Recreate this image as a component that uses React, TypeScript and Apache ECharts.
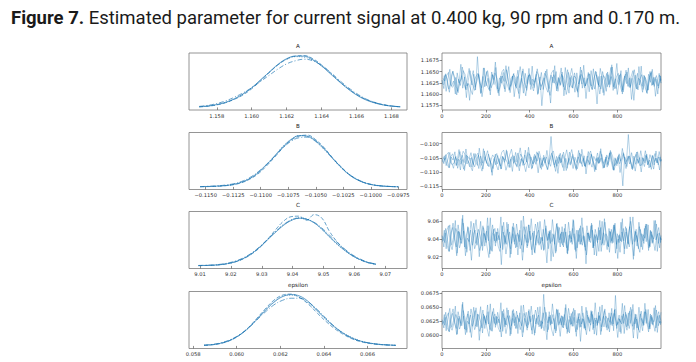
import React, { useEffect, useRef } from "react";
import * as echarts from "echarts";

// ---------- DATA ----------
const PARAMS = ["A", "B", "C", "epsilon"];

// KDE grids (x) and densities (relative, 4 chains each)
const A_KDE_X = [1.157, 1.1575, 1.158, 1.1585, 1.159, 1.1595, 1.16, 1.1605, 1.161, 1.1615, 1.162, 1.1625, 1.163, 1.1635, 1.164, 1.1645, 1.165, 1.1655, 1.166, 1.1665, 1.167, 1.1675, 1.168, 1.1685];
const A_KDE_1 = [1.4, 2.8, 5.5, 9.8, 16.5, 26, 38, 53, 68, 83, 94, 99, 99, 92, 80, 65, 50, 36, 24, 15, 9, 5, 2.5, 1.2];
const A_KDE_2 = [1.0, 2.2, 4.8, 9.0, 15.5, 24, 36, 51, 67, 82, 93, 99, 100, 94, 82, 67, 51, 37, 25, 16, 10, 5.5, 2.8, 1.3];
const A_KDE_3 = [2.0, 4.0, 7.5, 12.5, 19.5, 28, 38, 50, 62, 74, 84, 90, 93, 90, 81, 68, 53, 39, 27, 17, 10, 5.5, 2.7, 1.2];
const A_KDE_4 = [1.2, 2.6, 5.2, 9.5, 16, 25.5, 38, 52.5, 68, 82, 93, 98, 97, 91, 80, 66, 51, 37, 25, 16, 9.5, 5.2, 2.6, 1.3];

const B_KDE_X = [-0.1155, -0.11475, -0.114, -0.11325, -0.1125, -0.11175, -0.111, -0.11025, -0.1095, -0.10875, -0.108, -0.10725, -0.1065, -0.10575, -0.105, -0.10425, -0.1035, -0.10275, -0.102, -0.10125, -0.1005, -0.09975, -0.099, -0.09825, -0.0975];
const B_KDE_1 = [0.5, 0.9, 1.5, 2.6, 4.8, 9, 16, 27, 42, 59, 77, 91, 99, 98, 89, 74, 56, 39, 24, 14, 7.5, 3.8, 1.8, 0.8, 0.3];
const B_KDE_2 = [0.3, 0.6, 1.2, 2.2, 4.2, 8, 15, 25, 40, 57, 75, 90, 98, 100, 91, 76, 57, 40, 25, 14.5, 7.5, 3.5, 1.6, 0.7, 0.2];
const B_KDE_3 = [0.6, 1.2, 2.0, 3.5, 6, 10.5, 18, 29, 43, 59, 75, 88, 95, 96, 88, 74, 56, 39, 25, 15, 8, 4, 2, 0.9, 0.4];
const B_KDE_4 = [0.4, 0.8, 1.4, 2.4, 4.5, 8.8, 16.5, 28, 43, 60, 78, 92, 99, 97, 87, 72, 55, 38, 24, 14, 7.6, 3.8, 1.8, 0.8, 0.3];

const C_KDE_X = [9.0095, 9.012, 9.0145, 9.017, 9.0195, 9.022, 9.0245, 9.027, 9.0295, 9.032, 9.0345, 9.037, 9.0395, 9.042, 9.0445, 9.047, 9.0495, 9.052, 9.0545, 9.057, 9.0595, 9.062, 9.0645, 9.067];
const C_KDE_1 = [0.7, 1.0, 1.5, 2.8, 5.2, 9.3, 15.8, 25, 37, 51, 65, 78, 87.5, 92, 90, 83, 71, 56, 42, 29.5, 19.3, 12, 6.5, 3.5];
const C_KDE_2 = [0.5, 0.8, 1.3, 2.5, 4.8, 8.8, 15, 24, 36, 52, 70, 86, 95, 96, 88, 99, 92, 66, 46, 31, 19.5, 11.5, 6, 3];
const C_KDE_3 = [0.9, 1.3, 2.0, 3.5, 6.2, 10.5, 17, 26, 38, 52, 66, 79, 88, 92, 90, 84, 73, 59, 45, 32, 21, 13, 7, 3.8];
const C_KDE_4 = [0.6, 0.9, 1.4, 2.6, 5, 9, 15.5, 25, 37.5, 52, 67, 80, 89, 93, 91, 83, 70, 55, 41, 29, 19, 11.5, 6.2, 3.2];

const E_KDE_X = [0.0585, 0.0589, 0.0593, 0.0597, 0.0601, 0.0605, 0.0609, 0.0613, 0.0617, 0.0621, 0.0625, 0.0629, 0.0633, 0.0637, 0.0641, 0.0645, 0.0649, 0.0653, 0.0657, 0.0661, 0.0665, 0.0669, 0.0673];
const E_KDE_1 = [1.3, 2.6, 5.6, 11, 20, 33, 50, 68, 84, 95, 99, 96, 85, 68, 51, 36, 24, 15, 9, 5.5, 3.2, 2, 1.2];
const E_KDE_2 = [1.0, 2.2, 5.0, 10.5, 20, 34, 52, 71, 88, 98, 100, 93, 80, 63, 47, 33, 22, 13.5, 8, 4.8, 2.8, 1.7, 1.0];
const E_KDE_3 = [1.5, 3.0, 6.2, 12, 21, 33, 49, 65, 79, 88, 92, 92, 84, 70, 53, 37, 24, 15, 9, 5.3, 3, 1.8, 1.0];
const E_KDE_4 = [1.2, 2.5, 5.4, 11, 20.5, 34, 51, 69, 85, 96, 98, 93, 82, 67, 52, 37, 25, 16, 9.5, 5.6, 3.3, 2, 1.2];

// Trace samples (4 chains per parameter, thinned)
const A_TRACE_1 = [1.1631, 1.1612, 1.1645, 1.1622, 1.1604, 1.1638, 1.1651, 1.1627, 1.1598, 1.1633, 1.1619, 1.166, 1.1641, 1.1609, 1.1624, 1.1586, 1.1637, 1.1652, 1.1615, 1.1629, 1.1643, 1.1601, 1.1626, 1.1658, 1.1618, 1.1635, 1.1607, 1.1649, 1.1632, 1.1671, 1.162, 1.1596, 1.164, 1.1625, 1.1611, 1.1654, 1.1634, 1.1603, 1.1628, 1.1646, 1.1617, 1.1639, 1.159, 1.1623, 1.1656, 1.163, 1.1608, 1.1642, 1.1621, 1.1662, 1.1614, 1.1636, 1.1599, 1.1627, 1.1648, 1.161, 1.1633, 1.1655, 1.1619, 1.158, 1.1638, 1.1624, 1.165, 1.1606, 1.1631, 1.1644, 1.1616, 1.1659, 1.1626, 1.1602, 1.1637, 1.1613, 1.1647, 1.1629, 1.1593, 1.1641, 1.1622, 1.1664, 1.1618, 1.1635, 1.1605, 1.1652, 1.1628, 1.1611, 1.1643, 1.162, 1.1657, 1.1634, 1.1597, 1.1625, 1.1649, 1.1615, 1.1639, 1.1608, 1.1632, 1.1668, 1.1621, 1.1645, 1.16, 1.163, 1.1653, 1.1617, 1.1636, 1.1588, 1.1627, 1.1642, 1.1612, 1.1661, 1.1623, 1.1604, 1.164, 1.1631, 1.1609, 1.165, 1.1619, 1.1637, 1.1595, 1.1628, 1.1646, 1.1624];
const A_TRACE_2 = [1.1622, 1.1641, 1.1606, 1.1634, 1.1655, 1.1618, 1.1629, 1.16, 1.1647, 1.1625, 1.1666, 1.1613, 1.1638, 1.1592, 1.163, 1.1652, 1.162, 1.1644, 1.1609, 1.1683, 1.1627, 1.1603, 1.1639, 1.1616, 1.165, 1.1631, 1.1598, 1.1643, 1.1621, 1.1659, 1.1611, 1.1636, 1.1624, 1.1648, 1.1605, 1.1632, 1.1661, 1.1617, 1.164, 1.1594, 1.1628, 1.1653, 1.1614, 1.1635, 1.1602, 1.1646, 1.1623, 1.1657, 1.161, 1.1633, 1.1626, 1.1644, 1.1601, 1.1638, 1.1574, 1.162, 1.1651, 1.163, 1.1612, 1.1642, 1.1625, 1.1663, 1.1607, 1.1637, 1.1619, 1.1649, 1.1596, 1.1632, 1.1654, 1.1615, 1.1641, 1.1628, 1.1604, 1.1647, 1.1622, 1.166, 1.1613, 1.1636, 1.159, 1.1629, 1.1645, 1.1618, 1.1656, 1.1624, 1.1578, 1.1639, 1.1611, 1.165, 1.1631, 1.1606, 1.1643, 1.1621, 1.1665, 1.1616, 1.1634, 1.1599, 1.1627, 1.1652, 1.1609, 1.164, 1.1623, 1.1658, 1.1614, 1.1635, 1.1586, 1.163, 1.1646, 1.162, 1.1662, 1.161, 1.1637, 1.1603, 1.1644, 1.1626, 1.1655, 1.1617, 1.1633, 1.16, 1.1642, 1.1629];
const A_TRACE_3 = [1.1635, 1.1629, 1.1641, 1.1648, 1.1622, 1.1615, 1.1619, 1.1637, 1.1606, 1.1626, 1.1633, 1.1652, 1.1644, 1.1618, 1.1623, 1.1611, 1.1599, 1.163, 1.1639, 1.1646, 1.1627, 1.1614, 1.1658, 1.1632, 1.162, 1.161, 1.1625, 1.1643, 1.1636, 1.1617, 1.1602, 1.1628, 1.1649, 1.1655, 1.1631, 1.1621, 1.1608, 1.1634, 1.164, 1.1624, 1.1613, 1.1638, 1.1661, 1.1629, 1.1616, 1.1596, 1.1622, 1.1645, 1.1633, 1.1619, 1.1627, 1.165, 1.1642, 1.1609, 1.1623, 1.1636, 1.1615, 1.1604, 1.163, 1.1647, 1.1653, 1.1626, 1.1612, 1.1635, 1.1621, 1.1641, 1.1628, 1.1599, 1.1618, 1.1639, 1.1657, 1.1632, 1.162, 1.1607, 1.1625, 1.1644, 1.1637, 1.1614, 1.163, 1.1648, 1.1623, 1.161, 1.1633, 1.1651, 1.1627, 1.1616, 1.164, 1.1603, 1.1629, 1.1646, 1.1621, 1.1635, 1.166, 1.1624, 1.1612, 1.1631, 1.1642, 1.1619, 1.1605, 1.1634, 1.1649, 1.1626, 1.1617, 1.1638, 1.1654, 1.1622, 1.1609, 1.1632, 1.1643, 1.1628, 1.1613, 1.1601, 1.1636, 1.1647, 1.162, 1.163, 1.1641, 1.1618, 1.1634, 1.1625];
const A_TRACE_4 = [1.162, 1.1643, 1.1634, 1.1611, 1.1626, 1.165, 1.1638, 1.1616, 1.1603, 1.1629, 1.1641, 1.1624, 1.1612, 1.1636, 1.1657, 1.1631, 1.1619, 1.1608, 1.1633, 1.1645, 1.1627, 1.1594, 1.1621, 1.1639, 1.1652, 1.163, 1.1614, 1.1625, 1.1647, 1.1635, 1.1606, 1.1618, 1.164, 1.1628, 1.1663, 1.1632, 1.161, 1.1623, 1.1644, 1.1637, 1.1615, 1.1601, 1.1629, 1.1651, 1.1626, 1.1613, 1.1638, 1.1642, 1.162, 1.1607, 1.1634, 1.1656, 1.1631, 1.1617, 1.1624, 1.1646, 1.1639, 1.1611, 1.1597, 1.1627, 1.1643, 1.1632, 1.1619, 1.1635, 1.1658, 1.1625, 1.1609, 1.163, 1.1648, 1.1622, 1.1614, 1.164, 1.1636, 1.1604, 1.1628, 1.1653, 1.1633, 1.1618, 1.1626, 1.1645, 1.1621, 1.161, 1.1637, 1.1649, 1.1629, 1.16, 1.1624, 1.1641, 1.1634, 1.1616, 1.1631, 1.1659, 1.1627, 1.1612, 1.1638, 1.1646, 1.162, 1.1605, 1.1633, 1.1644, 1.1626, 1.1615, 1.1639, 1.1652, 1.1623, 1.1611, 1.1635, 1.163, 1.1617, 1.1642, 1.1628, 1.1608, 1.1634, 1.165, 1.1621, 1.1637, 1.1624, 1.1613, 1.164, 1.1631];

const B_TRACE_1 = [-0.1052, -0.1071, -0.1039, -0.1063, -0.1085, -0.1047, -0.1058, -0.1029, -0.1076, -0.1055, -0.1093, -0.1041, -0.1067, -0.1019, -0.106, -0.1082, -0.1049, -0.1074, -0.1035, -0.1057, -0.1088, -0.1044, -0.1069, -0.1026, -0.1061, -0.1079, -0.105, -0.1101, -0.1064, -0.1037, -0.1072, -0.1053, -0.109, -0.1045, -0.1066, -0.1022, -0.1059, -0.1084, -0.1048, -0.107, -0.1031, -0.1062, -0.1096, -0.1054, -0.1077, -0.104, -0.1065, -0.1013, -0.1056, -0.1086, -0.1046, -0.1073, -0.1033, -0.106, -0.1091, -0.1051, -0.1068, -0.1024, -0.1063, -0.108, -0.1042, -0.1075, -0.1057, -0.1105, -0.1049, -0.1066, -0.103, -0.1061, -0.1087, -0.1052, -0.1071, -0.1038, -0.1064, -0.1094, -0.1047, -0.1069, -0.102, -0.1058, -0.1083, -0.1044, -0.1076, -0.1036, -0.1062, -0.1099, -0.1053, -0.107, -0.1027, -0.1059, -0.1085, -0.1048, -0.1073, -0.1034, -0.1065, -0.1092, -0.105, -0.1078, -0.1041, -0.1061, -0.1017, -0.1056, -0.1088, -0.1045, -0.1072, -0.1032, -0.1063, -0.1097, -0.1054, -0.1067, -0.1025, -0.106, -0.1081, -0.1043, -0.1074, -0.1039, -0.1058, -0.109, -0.1051, -0.1068, -0.1028, -0.1062];
const B_TRACE_2 = [-0.1064, -0.1043, -0.1078, -0.1054, -0.1031, -0.1069, -0.1087, -0.1048, -0.106, -0.1021, -0.1073, -0.1056, -0.1095, -0.104, -0.1066, -0.1051, -0.1083, -0.1035, -0.1062, -0.1077, -0.1016, -0.1058, -0.109, -0.1046, -0.107, -0.1037, -0.1061, -0.1112, -0.1053, -0.1075, -0.1042, -0.1067, -0.1089, -0.1049, -0.1059, -0.1027, -0.1072, -0.1055, -0.1098, -0.1044, -0.1065, -0.1033, -0.108, -0.1052, -0.1068, -0.1023, -0.1063, -0.1086, -0.1047, -0.1071, -0.1038, -0.1057, -0.1103, -0.105, -0.1076, -0.1041, -0.1064, -0.1092, -0.1055, -0.0975, -0.106, -0.1084, -0.1045, -0.107, -0.1034, -0.1066, -0.1096, -0.1052, -0.1074, -0.103, -0.1059, -0.1088, -0.1048, -0.1067, -0.1024, -0.1062, -0.1081, -0.1043, -0.1107, -0.1057, -0.1072, -0.1039, -0.1065, -0.1091, -0.105, -0.1069, -0.1018, -0.1061, -0.1085, -0.1046, -0.1077, -0.1032, -0.1058, -0.1094, -0.1053, -0.1071, -0.1036, -0.1064, -0.1149, -0.1047, -0.1063, -0.0968, -0.1056, -0.1089, -0.1044, -0.1073, -0.1029, -0.106, -0.11, -0.1051, -0.1068, -0.1037, -0.1066, -0.1083, -0.1042, -0.1075, -0.1026, -0.1059, -0.1093, -0.1054];
const B_TRACE_3 = [-0.1048, -0.1057, -0.1039, -0.1031, -0.1066, -0.1074, -0.1069, -0.1045, -0.1087, -0.106, -0.1051, -0.1027, -0.1038, -0.1072, -0.1064, -0.108, -0.1096, -0.1055, -0.1043, -0.1034, -0.1059, -0.1077, -0.1018, -0.1053, -0.1068, -0.1082, -0.1062, -0.104, -0.1049, -0.1075, -0.1093, -0.1058, -0.103, -0.1023, -0.1054, -0.1067, -0.1084, -0.105, -0.1042, -0.1063, -0.1078, -0.1046, -0.1015, -0.1057, -0.1073, -0.1099, -0.1065, -0.1036, -0.1052, -0.1071, -0.1061, -0.1029, -0.1041, -0.1085, -0.1066, -0.1048, -0.1076, -0.1091, -0.1056, -0.1035, -0.1026, -0.1061, -0.108, -0.1047, -0.1068, -0.1039, -0.1057, -0.1095, -0.107, -0.1044, -0.1021, -0.1054, -0.1072, -0.1089, -0.1063, -0.1037, -0.105, -0.1079, -0.1058, -0.1028, -0.1064, -0.1083, -0.1045, -0.106, -0.1033, -0.1069, -0.1051, -0.1087, -0.1074, -0.104, -0.1055, -0.1024, -0.1062, -0.1094, -0.1067, -0.1046, -0.1071, -0.1056, -0.1032, -0.1059, -0.1081, -0.1043, -0.1065, -0.1092, -0.1053, -0.1038, -0.107, -0.1049, -0.1077, -0.1061, -0.1025, -0.1058, -0.1086, -0.1067, -0.1042, -0.1063, -0.1052, -0.1075, -0.1047, -0.106];
const B_TRACE_4 = [-0.1067, -0.105, -0.1073, -0.1085, -0.1046, -0.1036, -0.1061, -0.1078, -0.1055, -0.1028, -0.1064, -0.109, -0.1071, -0.1044, -0.1053, -0.1032, -0.1066, -0.1082, -0.1059, -0.1041, -0.1075, -0.1097, -0.1062, -0.1048, -0.1025, -0.1057, -0.1069, -0.1088, -0.1052, -0.1035, -0.1063, -0.1079, -0.1045, -0.1058, -0.1094, -0.1072, -0.104, -0.102, -0.1054, -0.1068, -0.1083, -0.106, -0.1037, -0.1049, -0.1076, -0.1065, -0.1031, -0.1056, -0.109, -0.107, -0.1043, -0.1062, -0.1027, -0.1051, -0.1081, -0.1067, -0.1047, -0.1073, -0.1058, -0.1034, -0.1065, -0.1098, -0.1054, -0.1039, -0.1069, -0.1084, -0.105, -0.1022, -0.1061, -0.1076, -0.1045, -0.1066, -0.1088, -0.1057, -0.1033, -0.1071, -0.1052, -0.108, -0.1063, -0.1042, -0.1026, -0.1059, -0.1074, -0.1093, -0.1048, -0.1064, -0.1038, -0.107, -0.1055, -0.1083, -0.1061, -0.1029, -0.1046, -0.1078, -0.1067, -0.1051, -0.1102, -0.106, -0.1036, -0.1072, -0.1056, -0.1044, -0.1069, -0.1087, -0.1053, -0.103, -0.1065, -0.1079, -0.1049, -0.1062, -0.1041, -0.1075, -0.1058, -0.1091, -0.1054, -0.1035, -0.1068, -0.1047, -0.1063, -0.1057];

const C_TRACE_1 = [9.044, 9.031, 9.052, 9.038, 9.026, 9.047, 9.058, 9.04, 9.021, 9.049, 9.035, 9.063, 9.042, 9.029, 9.054, 9.037, 9.016, 9.045, 9.05, 9.033, 9.041, 9.06, 9.027, 9.046, 9.036, 9.055, 9.023, 9.043, 9.051, 9.032, 9.048, 9.039, 9.065, 9.028, 9.044, 9.034, 9.057, 9.019, 9.041, 9.053, 9.03, 9.047, 9.037, 9.061, 9.025, 9.045, 9.036, 9.056, 9.04, 9.022, 9.049, 9.033, 9.059, 9.042, 9.028, 9.051, 9.038, 9.013, 9.046, 9.035, 9.062, 9.043, 9.026, 9.054, 9.039, 9.048, 9.031, 9.057, 9.024, 9.044, 9.036, 9.052, 9.041, 9.018, 9.05, 9.034, 9.064, 9.04, 9.027, 9.047, 9.037, 9.055, 9.03, 9.045, 9.021, 9.053, 9.039, 9.06, 9.033, 9.046, 9.042, 9.025, 9.051, 9.036, 9.058, 9.029, 9.044, 9.038, 9.063, 9.023, 9.048, 9.035, 9.054, 9.041, 9.017, 9.049, 9.032, 9.059, 9.043, 9.028, 9.052, 9.037, 9.056, 9.031, 9.045, 9.04, 9.061, 9.026, 9.047, 9.039];
const C_TRACE_2 = [9.037, 9.05, 9.029, 9.045, 9.056, 9.033, 9.042, 9.061, 9.024, 9.048, 9.039, 9.067, 9.031, 9.044, 9.053, 9.027, 9.04, 9.058, 9.035, 9.047, 9.02, 9.043, 9.055, 9.032, 9.049, 9.038, 9.064, 9.026, 9.046, 9.036, 9.052, 9.041, 9.011, 9.048, 9.034, 9.059, 9.04, 9.029, 9.054, 9.037, 9.045, 9.022, 9.05, 9.033, 9.066, 9.042, 9.03, 9.056, 9.039, 9.047, 9.025, 9.044, 9.035, 9.06, 9.041, 9.027, 9.052, 9.038, 9.049, 9.015, 9.046, 9.034, 9.057, 9.043, 9.031, 9.054, 9.036, 9.048, 9.023, 9.045, 9.04, 9.062, 9.028, 9.05, 9.037, 9.055, 9.033, 9.043, 9.012, 9.047, 9.039, 9.058, 9.03, 9.051, 9.042, 9.026, 9.053, 9.035, 9.063, 9.041, 9.032, 9.049, 9.038, 9.056, 9.024, 9.046, 9.036, 9.059, 9.04, 9.029, 9.052, 9.034, 9.065, 9.043, 9.021, 9.048, 9.037, 9.054, 9.031, 9.045, 9.041, 9.057, 9.027, 9.05, 9.035, 9.061, 9.039, 9.046, 9.03, 9.044];
const C_TRACE_3 = [9.043, 9.036, 9.049, 9.055, 9.034, 9.028, 9.04, 9.052, 9.046, 9.03, 9.037, 9.058, 9.044, 9.025, 9.039, 9.05, 9.033, 9.047, 9.062, 9.041, 9.027, 9.035, 9.053, 9.045, 9.031, 9.019, 9.042, 9.056, 9.038, 9.048, 9.032, 9.026, 9.044, 9.059, 9.036, 9.051, 9.04, 9.023, 9.046, 9.034, 9.057, 9.043, 9.029, 9.038, 9.054, 9.047, 9.032, 9.041, 9.063, 9.037, 9.024, 9.045, 9.05, 9.035, 9.042, 9.028, 9.055, 9.039, 9.048, 9.031, 9.02, 9.044, 9.058, 9.036, 9.046, 9.033, 9.052, 9.04, 9.027, 9.049, 9.037, 9.061, 9.042, 9.03, 9.045, 9.034, 9.053, 9.038, 9.022, 9.047, 9.041, 9.056, 9.032, 9.043, 9.036, 9.05, 9.026, 9.044, 9.059, 9.039, 9.031, 9.048, 9.035, 9.054, 9.042, 9.018, 9.045, 9.037, 9.052, 9.04, 9.029, 9.047, 9.06, 9.034, 9.043, 9.051, 9.033, 9.025, 9.046, 9.038, 9.055, 9.041, 9.03, 9.049, 9.036, 9.044, 9.057, 9.035, 9.042, 9.039];
const C_TRACE_4 = [9.038, 9.047, 9.033, 9.026, 9.044, 9.053, 9.04, 9.031, 9.056, 9.042, 9.035, 9.049, 9.021, 9.041, 9.037, 9.06, 9.045, 9.029, 9.036, 9.051, 9.043, 9.032, 9.047, 9.039, 9.064, 9.034, 9.027, 9.046, 9.052, 9.038, 9.044, 9.03, 9.055, 9.041, 9.023, 9.037, 9.048, 9.035, 9.058, 9.042, 9.031, 9.045, 9.039, 9.016, 9.043, 9.054, 9.036, 9.049, 9.028, 9.04, 9.057, 9.046, 9.033, 9.042, 9.038, 9.062, 9.044, 9.029, 9.05, 9.037, 9.045, 9.024, 9.041, 9.053, 9.035, 9.048, 9.039, 9.03, 9.059, 9.043, 9.034, 9.046, 9.026, 9.04, 9.052, 9.037, 9.044, 9.031, 9.055, 9.042, 9.036, 9.05, 9.022, 9.045, 9.039, 9.061, 9.033, 9.047, 9.041, 9.028, 9.052, 9.036, 9.043, 9.056, 9.034, 9.04, 9.025, 9.048, 9.038, 9.054, 9.042, 9.031, 9.046, 9.065, 9.037, 9.044, 9.029, 9.051, 9.04, 9.035, 9.057, 9.043, 9.032, 9.048, 9.039, 9.027, 9.045, 9.053, 9.036, 9.041];

const E_TRACE_1 = [0.0628, 0.0613, 0.0641, 0.062, 0.0606, 0.0634, 0.0647, 0.0623, 0.0601, 0.063, 0.0617, 0.0655, 0.0626, 0.0609, 0.0638, 0.0621, 0.0596, 0.0632, 0.0644, 0.0615, 0.0627, 0.0651, 0.0604, 0.0635, 0.0619, 0.0642, 0.061, 0.0629, 0.0648, 0.0614, 0.0633, 0.0622, 0.0658, 0.0607, 0.0631, 0.0618, 0.0645, 0.0599, 0.0625, 0.0639, 0.0612, 0.0636, 0.0624, 0.0653, 0.0605, 0.063, 0.0616, 0.0643, 0.0627, 0.0602, 0.0637, 0.062, 0.065, 0.0626, 0.0611, 0.064, 0.0623, 0.0592, 0.0633, 0.0618, 0.0656, 0.0629, 0.0608, 0.0646, 0.0621, 0.0635, 0.0613, 0.0649, 0.0603, 0.0628, 0.0619, 0.0642, 0.0625, 0.0598, 0.0639, 0.0614, 0.0652, 0.0624, 0.0609, 0.0636, 0.0622, 0.0644, 0.061, 0.0631, 0.06, 0.0641, 0.0626, 0.0654, 0.0615, 0.0634, 0.0628, 0.0606, 0.064, 0.062, 0.0647, 0.0612, 0.063, 0.0623, 0.0657, 0.0603, 0.0637, 0.0617, 0.0643, 0.0627, 0.0595, 0.0638, 0.0613, 0.065, 0.0625, 0.0608, 0.0642, 0.0621, 0.0646, 0.0611, 0.0632, 0.0624, 0.0653, 0.0605, 0.0636, 0.0626];
const E_TRACE_2 = [0.0619, 0.0637, 0.0608, 0.0631, 0.0648, 0.0614, 0.0626, 0.0652, 0.0602, 0.0634, 0.0621, 0.0659, 0.0611, 0.0629, 0.0643, 0.0605, 0.0623, 0.065, 0.0616, 0.0638, 0.0591, 0.0627, 0.0645, 0.0612, 0.0635, 0.062, 0.0656, 0.0607, 0.0632, 0.0618, 0.0641, 0.0625, 0.0597, 0.0639, 0.0615, 0.0649, 0.0628, 0.061, 0.0644, 0.0622, 0.0633, 0.0603, 0.064, 0.0617, 0.0654, 0.0627, 0.0609, 0.0646, 0.0624, 0.0636, 0.06, 0.063, 0.0619, 0.0651, 0.0613, 0.0673, 0.0626, 0.0606, 0.0642, 0.0621, 0.0637, 0.0611, 0.0647, 0.0624, 0.0598, 0.0634, 0.0618, 0.0655, 0.0628, 0.0604, 0.0639, 0.0616, 0.0645, 0.0622, 0.0633, 0.0589, 0.063, 0.0612, 0.065, 0.0625, 0.0607, 0.0641, 0.062, 0.0658, 0.0617, 0.0635, 0.0601, 0.0628, 0.0644, 0.0614, 0.0631, 0.0623, 0.0648, 0.0608, 0.0671, 0.0619, 0.0636, 0.0603, 0.0627, 0.0653, 0.0615, 0.064, 0.0621, 0.0646, 0.061, 0.0632, 0.0594, 0.0629, 0.0643, 0.0617, 0.0657, 0.0624, 0.0606, 0.0638, 0.062, 0.0649, 0.0613, 0.0634, 0.0622, 0.0641];
const E_TRACE_3 = [0.0626, 0.0618, 0.0633, 0.064, 0.0615, 0.0609, 0.0622, 0.0637, 0.0629, 0.0611, 0.062, 0.0644, 0.0631, 0.0605, 0.0624, 0.0636, 0.0616, 0.063, 0.0649, 0.0625, 0.0607, 0.0619, 0.0638, 0.0628, 0.0612, 0.0598, 0.0623, 0.0642, 0.0621, 0.0634, 0.0614, 0.0606, 0.0627, 0.0646, 0.0619, 0.0635, 0.0624, 0.0602, 0.063, 0.0617, 0.0643, 0.0626, 0.061, 0.0621, 0.0639, 0.0632, 0.0613, 0.0625, 0.0652, 0.062, 0.0604, 0.0628, 0.0636, 0.0616, 0.0624, 0.0608, 0.0641, 0.0622, 0.0633, 0.0611, 0.0599, 0.0627, 0.0645, 0.0618, 0.063, 0.0614, 0.0637, 0.0623, 0.0606, 0.0634, 0.062, 0.0648, 0.0626, 0.061, 0.0629, 0.0615, 0.064, 0.0621, 0.0601, 0.0632, 0.0624, 0.0643, 0.0613, 0.0627, 0.0619, 0.0635, 0.0607, 0.0628, 0.0647, 0.0622, 0.0612, 0.0633, 0.0617, 0.0639, 0.0625, 0.0596, 0.0629, 0.062, 0.0638, 0.0623, 0.0609, 0.0631, 0.065, 0.0616, 0.0626, 0.0637, 0.0614, 0.0605, 0.063, 0.0621, 0.0642, 0.0624, 0.0611, 0.0634, 0.0618, 0.0628, 0.0645, 0.0617, 0.0625, 0.0622];
const E_TRACE_4 = [0.0621, 0.0632, 0.0614, 0.0607, 0.0628, 0.0639, 0.0623, 0.0612, 0.0642, 0.0626, 0.0617, 0.0634, 0.0601, 0.0625, 0.062, 0.0647, 0.063, 0.061, 0.0619, 0.0637, 0.0627, 0.0613, 0.0633, 0.0622, 0.0654, 0.0616, 0.0608, 0.0631, 0.0638, 0.0621, 0.0629, 0.0611, 0.0643, 0.0625, 0.0603, 0.062, 0.0635, 0.0617, 0.0646, 0.0627, 0.0612, 0.063, 0.0622, 0.0597, 0.0628, 0.0641, 0.0619, 0.0634, 0.0609, 0.0624, 0.0645, 0.0631, 0.0615, 0.0626, 0.0621, 0.065, 0.0629, 0.061, 0.0636, 0.062, 0.063, 0.0604, 0.0625, 0.064, 0.0618, 0.0633, 0.0623, 0.0611, 0.0648, 0.0628, 0.0616, 0.0632, 0.0606, 0.0624, 0.0639, 0.062, 0.0629, 0.0613, 0.0644, 0.0626, 0.0618, 0.0637, 0.0602, 0.0631, 0.0622, 0.0651, 0.0615, 0.0634, 0.0625, 0.0609, 0.064, 0.0619, 0.0628, 0.0645, 0.0617, 0.0624, 0.0606, 0.0635, 0.0621, 0.0641, 0.0627, 0.0612, 0.0632, 0.0655, 0.062, 0.0629, 0.061, 0.0638, 0.0624, 0.0618, 0.0646, 0.0627, 0.0614, 0.0636, 0.0622, 0.0607, 0.0631, 0.0642, 0.0619, 0.0625];

// Tick values
const A_KDE_TICKS = [1.158, 1.16, 1.162, 1.164, 1.166, 1.168];
const B_KDE_TICKS = [-0.115, -0.1125, -0.11, -0.1075, -0.105, -0.1025, -0.1, -0.0975];
const C_KDE_TICKS = [9.01, 9.02, 9.03, 9.04, 9.05, 9.06, 9.07];
const E_KDE_TICKS = [0.058, 0.06, 0.062, 0.064, 0.066];
const A_TRACE_TICKS = [1.1575, 1.16, 1.1625, 1.165, 1.1675];
const B_TRACE_TICKS = [-0.115, -0.11, -0.105, -0.1];
const C_TRACE_TICKS = [9.02, 9.04, 9.06];
const E_TRACE_TICKS = [0.06, 0.0625, 0.065, 0.0675];
const DRAW_TICKS = [0, 200, 400, 600, 800];
const N_DRAWS = 1000;

const TITLE_BOLD = "Figure 7.";
const TITLE_REST = "Estimated parameter for current signal at 0.400 kg, 90 rpm and 0.170 m.";

// ---------- LAYOUT / STYLE ----------
const ROW_TOPS = [53, 132.5, 211.5, 291.5];
const ROW_H = 57;
const LEFT_X = 189;
const LEFT_W = 218;
const RIGHT_X = 442;
const RIGHT_W = 219;
const BLUE = "#1f77b4";
const FONT = "DejaVu Sans";
const TITLE_FONT = "Roboto";

const KDE_RANGES = [
  [1.15641, 1.16889],
  [-0.11652, -0.09671],
  [9.00643, 9.07705],
  [0.05781, 0.06781],
];
const TRACE_RANGES = [
  [1.15646, 1.16911],
  [-0.11617, -0.0961],
  [9.0067, 9.0711],
  [0.05764, 0.0678],
];

const KDE_X = [A_KDE_X, B_KDE_X, C_KDE_X, E_KDE_X];
const KDE_Y = [
  [A_KDE_1, A_KDE_2, A_KDE_3, A_KDE_4],
  [B_KDE_1, B_KDE_2, B_KDE_3, B_KDE_4],
  [C_KDE_1, C_KDE_2, C_KDE_3, C_KDE_4],
  [E_KDE_1, E_KDE_2, E_KDE_3, E_KDE_4],
];
const TRACES = [
  [A_TRACE_1, A_TRACE_2, A_TRACE_3, A_TRACE_4],
  [B_TRACE_1, B_TRACE_2, B_TRACE_3, B_TRACE_4],
  [C_TRACE_1, C_TRACE_2, C_TRACE_3, C_TRACE_4],
  [E_TRACE_1, E_TRACE_2, E_TRACE_3, E_TRACE_4],
];
const KDE_TICKS = [A_KDE_TICKS, B_KDE_TICKS, C_KDE_TICKS, E_KDE_TICKS];
const TRACE_TICKS = [A_TRACE_TICKS, B_TRACE_TICKS, C_TRACE_TICKS, E_TRACE_TICKS];
const KDE_DEC = [3, 4, 2, 3];
const TRACE_DEC = [4, 3, 2, 4];
const DASHES: any[] = ["solid", [4, 2], [5, 2, 1, 2], [1, 1.5]];

const fmt = (d: number) => (v: number) => {
  const s = Math.abs(v).toFixed(d);
  return v < -1e-12 ? "\u2212" + s : s;
};

function buildOption() {
  const grid: any[] = [];
  const xAxis: any[] = [];
  const yAxis: any[] = [];
  const series: any[] = [];
  const graphic: any[] = [];

  const tickStyle = { show: true, length: 2.5, lineStyle: { color: "#444", width: 0.6 } };
  const labelStyle = { fontFamily: FONT, fontSize: 5.2, color: "#333" };

  PARAMS.forEach((p, r) => {
    const top = ROW_TOPS[r];
    // left grid (KDE)
    const gl = grid.length;
    grid.push({ left: LEFT_X, top, width: LEFT_W, height: ROW_H, show: true, borderColor: "#7a7a7a", borderWidth: 0.8, backgroundColor: "#fff" });
    xAxis.push({
      gridIndex: gl, type: "value", min: KDE_RANGES[r][0], max: KDE_RANGES[r][1],
      axisLine: { show: false }, splitLine: { show: false },
      axisTick: { ...tickStyle, customValues: KDE_TICKS[r] },
      axisLabel: { ...labelStyle, margin: 3, customValues: KDE_TICKS[r], formatter: fmt(KDE_DEC[r]) },
    });
    yAxis.push({ gridIndex: gl, type: "value", min: -5, max: 105, show: false });
    KDE_Y[r].forEach((ys, c) => {
      series.push({
        type: "line", xAxisIndex: gl, yAxisIndex: gl, smooth: 0.4, showSymbol: false, silent: true,
        data: KDE_X[r].map((x, i) => [x, ys[i]]),
        lineStyle: { color: BLUE, width: 0.8, type: DASHES[c], opacity: 0.85 },
      });
    });
    // right grid (trace)
    const gr = grid.length;
    grid.push({ left: RIGHT_X, top, width: RIGHT_W, height: ROW_H, show: true, borderColor: "#7a7a7a", borderWidth: 0.8, backgroundColor: "#fff" });
    xAxis.push({
      gridIndex: gr, type: "value", min: 0, max: N_DRAWS - 1,
      axisLine: { show: false }, splitLine: { show: false },
      axisTick: { ...tickStyle, customValues: DRAW_TICKS },
      axisLabel: { ...labelStyle, margin: 3, customValues: DRAW_TICKS },
    });
    yAxis.push({
      gridIndex: gr, type: "value", min: TRACE_RANGES[r][0], max: TRACE_RANGES[r][1],
      axisLine: { show: false }, splitLine: { show: false },
      axisTick: { ...tickStyle, customValues: TRACE_TICKS[r] },
      axisLabel: { ...labelStyle, margin: 3, customValues: TRACE_TICKS[r], formatter: fmt(TRACE_DEC[r]) },
    });
    TRACES[r].forEach((vals, c) => {
      const step = (N_DRAWS - 1) / (vals.length - 1);
      const off = (c * step) / 4;
      series.push({
        type: "line", xAxisIndex: gr, yAxisIndex: gr, showSymbol: false, silent: true,
        data: vals.map((v, i) => [Math.min(i * step + off, N_DRAWS - 1), v]),
        lineStyle: { color: BLUE, width: 0.55, opacity: 0.6 },
      });
    });
    // panel titles
    [LEFT_X + LEFT_W / 2, RIGHT_X + RIGHT_W / 2].forEach((cx) => {
      graphic.push({
        type: "text", x: cx, y: top - 4,
        style: { text: p, fontFamily: FONT, fontSize: 5.6, fill: "#222", align: "center", verticalAlign: "bottom" },
      });
    });
  });

  graphic.push({
    type: "text", x: 11, y: 18,
    style: {
      text: `{b|${TITLE_BOLD}} {r|${TITLE_REST}}`,
      verticalAlign: "middle",
      fontFamily: TITLE_FONT, fontSize: 18.5, fill: "#1a1a1a",
      rich: {
        b: { fontFamily: TITLE_FONT, fontSize: 18.5, fontWeight: "bold", fill: "#1a1a1a" },
        r: { fontFamily: TITLE_FONT, fontSize: 18.5, fill: "#1a1a1a" },
      },
    },
  });

  return { animation: false, backgroundColor: "#fff", grid, xAxis, yAxis, series, graphic };
}

export default function App() {
  const ref = useRef<HTMLDivElement>(null);
  useEffect(() => {
    if (!ref.current) return;
    const chart = echarts.init(ref.current, undefined, { renderer: "svg" });
    chart.setOption(buildOption() as any);
    return () => chart.dispose();
  }, []);
  return (
    <div
      ref={ref}
      style={{ position: "fixed", left: 0, top: 0, width: 696, height: 362, background: "#fff" }}
    />
  );
}
